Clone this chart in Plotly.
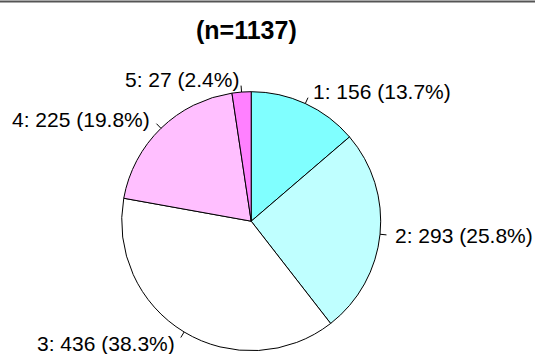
import math
import plotly.graph_objects as go

# Response counts per category
categories = ["1", "2", "3", "4", "5"]
counts = [156, 293, 436, 225, 27]
colors = ["#80FFFF", "#BFFFFF", "#FFFFFF", "#FFBFFF", "#FF80FF"]
title_text = "(n=1137)"

W, H = 535, 354
cx, cy, r = 251.2, 221.2, 129.5  # pie centre and radius in pixels
font_family = "Liberation Sans, Arial, Helvetica, sans-serif"

fig = go.Figure(
    go.Pie(
        labels=categories,
        values=counts,
        sort=False,
        direction="clockwise",
        rotation=0,
        textinfo="none",
        hoverinfo="label+value+percent",
        marker=dict(colors=colors, line=dict(color="black", width=1)),
        domain=dict(
            x=[(cx - r) / W, (cx + r) / W],
            y=[(H - cy - r) / H, (H - cy + r) / H],
        ),
        showlegend=False,
    )
)

# Outside labels with short leader ticks, placed at each slice's mid-angle
total = sum(counts)
cum = 0
shapes = []
annotations = []
for cat, v in zip(categories, counts):
    mid = (cum + v / 2) / total * 2 * math.pi
    cum += v
    s, c = math.sin(mid), math.cos(mid)
    x0, y0 = cx + r * s, cy - r * c
    x1, y1 = cx + 1.05 * r * s, cy - 1.05 * r * c
    shapes.append(dict(type="line", xref="paper", yref="paper",
                       x0=x0 / W, y0=1 - y0 / H, x1=x1 / W, y1=1 - y1 / H,
                       line=dict(color="black", width=1)))
    tx, ty = cx + 1.1 * r * s, cy - 1.1 * r * c
    pct = v / total * 100
    annotations.append(dict(
        x=tx / W, y=1 - ty / H, xref="paper", yref="paper",
        text=f"{cat}: {v} ({pct:.1f}%)", showarrow=False,
        xanchor="left" if s > 0 else "right", yanchor="middle",
        font=dict(size=21, color="black", family=font_family),
    ))

# Thin frame edge along the top
shapes.append(dict(type="line", xref="paper", yref="paper",
                   x0=0, x1=1, y0=1 - 1.5 / H, y1=1 - 1.5 / H,
                   line=dict(color="#555555", width=2)))

annotations.append(dict(
    x=246 / W, y=1 - 30 / H, xref="paper", yref="paper",
    text=f"<b>{title_text}</b>", showarrow=False,
    xanchor="center", yanchor="middle",
    font=dict(size=25, color="black", family=font_family),
))

fig.update_layout(
    width=W, height=H,
    margin=dict(l=0, r=0, t=0, b=0),
    paper_bgcolor="white",
    plot_bgcolor="white",
    shapes=shapes,
    annotations=annotations,
)

fig.write_html("out.html")
